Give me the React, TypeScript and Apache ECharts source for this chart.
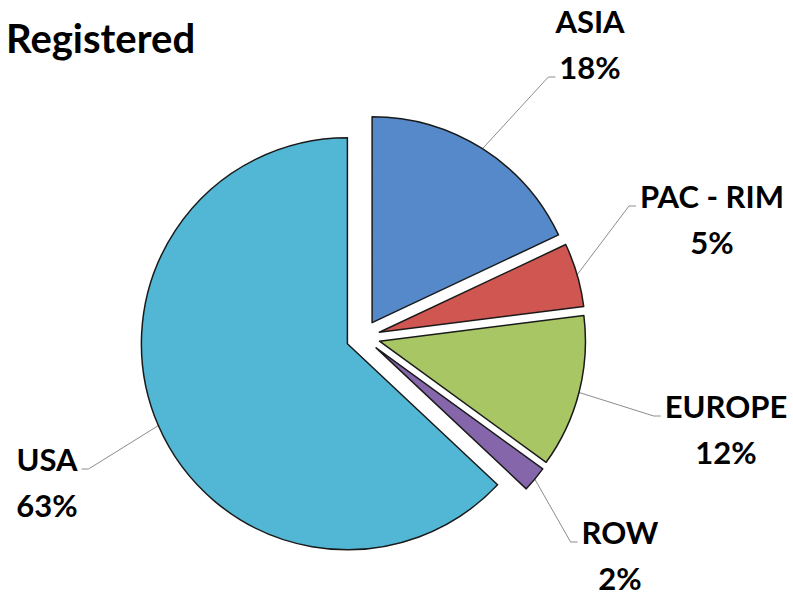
import React, { useEffect, useRef } from "react";
import * as echarts from "echarts";

const categories = ["ASIA", "PAC - RIM", "EUROPE", "ROW", "USA"];
const values = [18, 5, 12, 2, 63];
const colors = ["#5589C9", "#CF5651", "#A8C764", "#8566AA", "#52B7D4"];
const labelCenters = [
  [590, 44],
  [712, 219],
  [726, 429],
  [620, 555],
  [47, 482],
];
// which text line the leader attaches to (0 first, 1 second) and on which side
const leaderLine = [1, 0, 0, 0, 0];
const leaderSide = ["left", "left", "left", "left", "right"];

const CX = 363;
const CY = 337;
const R = 206;
const EXPLODE = 17;
const FONT_SIZE = 31;
const LINE_H = 46;
const FONT = `bold ${FONT_SIZE}px Lato`;

export default function App() {
  const ref = useRef<HTMLDivElement>(null);
  useEffect(() => {
    if (!ref.current) return;
    const chart = echarts.init(ref.current, undefined, { renderer: "svg" });
    const ctx = document.createElement("canvas").getContext("2d") as CanvasRenderingContext2D;
    ctx.font = FONT;
    const total = values.reduce((a, b) => a + b, 0);
    let acc = 0;
    const mids = values.map((v) => {
      const m = ((acc + v / 2) / total) * 2 * Math.PI;
      acc += v;
      return m;
    });
    const series = categories.map((_, i) => ({
      type: "pie",
      center: [CX + EXPLODE * Math.sin(mids[i]), CY - EXPLODE * Math.cos(mids[i])],
      radius: [0, R],
      startAngle: 90,
      clockwise: true,
      silent: true,
      avoidLabelOverlap: false,
      emphasis: { disabled: true },
      label: {
        show: true,
        position: "outside",
        formatter: (p: any) => `${p.name}\n${p.value}%`,
        fontFamily: "Lato",
        fontWeight: "bold",
        fontSize: FONT_SIZE,
        lineHeight: LINE_H,
        color: "#000",
        align: "center",
      },
      labelLine: {
        show: true,
        length: 20,
        length2: 8,
        lineStyle: { color: "#8c8c8c", width: 1 },
      },
      labelLayout: (params: any) => {
        if (params.dataIndex !== i) return {};
        const c = labelCenters[i];
        const lines = [categories[i], `${values[i]}%`];
        const li = leaderLine[i];
        const w = ctx.measureText(lines[li]).width;
        const ly = c[1] + (li === 0 ? -LINE_H / 2 : LINE_H / 2) + 10;
        const sign = leaderSide[i] === "left" ? -1 : 1;
        const ex = c[0] + sign * (w / 2 + 4);
        const start = params.labelLinePoints ? params.labelLinePoints[0] : null;
        const out: any = { x: c[0], y: c[1], align: "center", verticalAlign: "middle" };
        if (start) {
          out.labelLinePoints = [start, [ex + sign * 7, ly], [ex, ly]];
        }
        return out;
      },
      data: categories.map((name, j) => ({
        name,
        value: values[j],
        itemStyle:
          j === i
            ? { color: colors[j], borderColor: "#1a1a1a", borderWidth: 1.5 }
            : { color: "rgba(0,0,0,0)", borderWidth: 0 },
        label: { show: j === i },
        labelLine: { show: j === i },
      })),
    }));
    chart.setOption({
      animation: false,
      backgroundColor: "#ffffff",
      title: {
        text: "Registered",
        left: 6,
        top: 18,
        padding: 0,
        textStyle: {
          fontFamily: "Lato",
          fontWeight: "bold",
          fontSize: 40,
          color: "#000",
        },
      },
      series,
    });
    return () => chart.dispose();
  }, []);
  return (
    <div
      ref={ref}
      style={{ position: "fixed", left: 0, top: 0, width: 793, height: 597 }}
    />
  );
}
